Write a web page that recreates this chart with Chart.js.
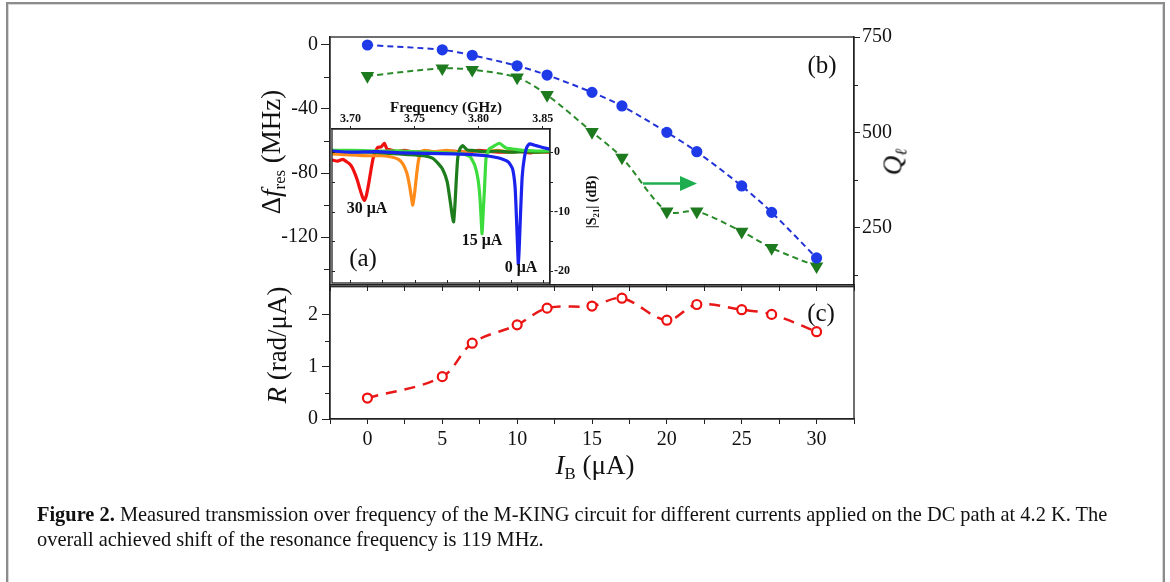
<!DOCTYPE html>
<html lang="en">
<head>
<meta charset="UTF-8">
<title>Figure 2 - M-KING tuning</title>
<script src="https://cdn.jsdelivr.net/npm/chart.js"></script>
<style>
  body { margin: 0; background: #fff; font-family: 'Liberation Serif', serif; color: #111; }
  #fig { position: relative; width: 1170px; height: 582px; overflow: hidden; background: #fff; }
  .frame { position: absolute; left: 6px; top: 2px; width: 1155px; height: 640px; border: 2px solid #8c8c8c; box-shadow: inset 0 0 0 1px #d6d6d6; }
  canvas { position: absolute; }
  .lab { position: absolute; white-space: nowrap; transform: translate(-50%, -50%); line-height: 1; }
  .rot { transform: translate(-50%, -50%) rotate(-90deg); }
  .axt { font-size: 27px; }
  .pan { font-size: 25px; }
  .ins { font-weight: bold; font-size: 15px; }
  sub { font-size: 0.62em; vertical-align: -0.32em; line-height: 0; }
  .caption { position: absolute; left: 37px; top: 502px; font-size: 20.4px; line-height: 25px; white-space: nowrap; }
</style>
</head>
<body>
<div id="fig">
  <div class="frame"></div>
  <canvas id="topChart" width="740" height="273" style="left:200px;top:27px"></canvas>
  <canvas id="bottomChart" width="740" height="170" style="left:200px;top:280px"></canvas>
  <canvas id="insetChart" width="274" height="178" style="left:326px;top:112px"></canvas>

  <div class="lab rot axt" style="left:271px;top:152px">Δ<i>f</i><sub>res</sub> (MHz)</div>
  <div class="lab rot axt" style="left:893px;top:162px"><i>Q</i><sub><i>ℓ</i></sub></div>
  <div class="lab rot axt" style="left:277px;top:345px"><i>R</i> (rad/μA)</div>
  <div class="lab axt" style="left:595px;top:465px"><i>I</i><sub>B</sub> (μA)</div>
  <div class="lab pan" style="left:822px;top:64px">(b)</div>
  <div class="lab pan" style="left:821px;top:312px">(c)</div>
  <div class="lab pan" style="left:363px;top:257px">(a)</div>
  <div class="lab ins" style="left:446px;top:107px">Frequency (GHz)</div>
  <div class="lab ins rot" style="left:592px;top:202px;font-size:14px">|S<sub>21</sub>| (dB)</div>
  <div class="lab ins" style="left:367px;top:208px;font-size:16px">30 μA</div>
  <div class="lab ins" style="left:482px;top:240px;font-size:16px">15 μA</div>
  <div class="lab ins" style="left:521px;top:267px;font-size:16px">0 μA</div>

  <svg width="1170" height="582" style="position:absolute;left:0;top:0;pointer-events:none">
    <line x1="643" y1="183.5" x2="682" y2="183.5" stroke="#1fae4f" stroke-width="2.5"/>
    <polygon points="680,176 697,183.5 680,191" fill="#1fae4f"/>
  </svg>

  <div class="caption"><b>Figure 2.</b> Measured transmission over frequency of the M-KING circuit for different currents applied on the DC path at 4.2 K. The<br>overall achieved shift of the resonance frequency is 119 MHz.</div>
</div>

<script>
  // bias current values (uA)
  const currents = [0, 5, 7, 10, 12, 15, 17, 20, 22, 25, 27, 30];
  // (b) resonance shift, MHz (left axis) and loaded Q (right axis)
  const shiftMHz = [0, -3, -6.4, -13, -18.8, -29.6, -38.1, -54.6, -66.7, -88.1, -104.6, -133.1];
  const qLoaded = [648, 668, 664, 644, 598, 501, 434, 293, 293, 240, 197, 149];
  // (c) responsivity, rad/uA
  const responsivity = [0.40, 0.81, 1.45, 1.80, 2.12, 2.16, 2.31, 1.89, 2.19, 2.09, 2.00, 1.67];

  // (a) |S21| traces
  const freq30 = [3.6856, 3.690, 3.694, 3.697, 3.6995, 3.7015, 3.7035, 3.7055, 3.7075, 3.7095, 3.7109, 3.7125, 3.7143, 3.716, 3.7175, 3.719, 3.7213, 3.724, 3.7265, 3.7285, 3.731, 3.736, 3.742, 3.750, 3.760, 3.770, 3.780, 3.790, 3.800, 3.810, 3.820, 3.830, 3.840, 3.848, 3.8557];
  const s21_30 = [-1.3, -1.5, -1.2, -1.6, -2.0, -2.6, -3.6, -4.8, -6.3, -7.6, -8.1, -7.2, -5.2, -3.0, -1.2, -0.1, 0.8, 0.9, 1.5, 0.5, 0.4, 0.1, 0.3, 0.0, 0.2, -0.1, 0.2, 0.0, 0.3, 0.1, 0.0, 0.2, -0.1, 0.1, 0.0];
  const freq25 = [3.6856, 3.695, 3.705, 3.715, 3.725, 3.732, 3.7375, 3.741, 3.744, 3.746, 3.7475, 3.7486, 3.750, 3.7515, 3.753, 3.755, 3.758, 3.765, 3.775, 3.785, 3.795, 3.805, 3.815, 3.825, 3.835, 3.845, 3.8557];
  const s21_25 = [-0.3, -0.4, -0.5, -0.6, -0.6, -0.8, -1.2, -2.0, -3.5, -5.5, -7.5, -8.9, -7.0, -4.0, -1.5, 0.1, 0.3, 0.1, 0.3, 0.0, 0.2, 0.1, 0.3, 0.0, 0.2, 0.0, 0.1];
  const freq20 = [3.6856, 3.700, 3.715, 3.730, 3.745, 3.757, 3.764, 3.768, 3.772, 3.7755, 3.778, 3.7795, 3.7805, 3.7815, 3.7825, 3.7837, 3.7855, 3.7876, 3.791, 3.795, 3.805, 3.815, 3.825, 3.835, 3.845, 3.8557];
  const s21_20 = [0.2, 0.1, 0.0, -0.2, -0.4, -0.6, -1.0, -1.8, -2.9, -5.0, -8.5, -10.8, -11.7, -9.0, -5.0, -1.0, 0.6, 1.1, 0.4, 0.3, 0.1, 0.2, 0.0, 0.1, 0.0, 0.1];
  const freq15 = [3.6856, 3.700, 3.720, 3.740, 3.760, 3.775, 3.788, 3.7935, 3.797, 3.7995, 3.801, 3.8018, 3.8027, 3.8036, 3.8045, 3.8058, 3.808, 3.811, 3.8162, 3.8214, 3.828, 3.835, 3.845, 3.8557];
  const s21_15 = [0.3, 0.3, 0.2, 0.2, 0.0, -0.1, -0.3, -0.8, -2.2, -4.5, -7.5, -10.5, -13.7, -10.0, -6.5, -1.0, 0.5, 0.9, 1.5, 0.7, 0.5, 0.3, 0.2, 0.2];
  const freq0 = [3.6856, 3.700, 3.720, 3.740, 3.760, 3.780, 3.795, 3.806, 3.814, 3.8188, 3.8235, 3.8265, 3.8285, 3.8297, 3.8305, 3.831, 3.8317, 3.8326, 3.834, 3.8357, 3.8375, 3.8396, 3.8448, 3.850, 3.8557];
  const s21_0 = [0.2, 0.0, 0.1, -0.1, -0.2, -0.3, -0.4, -0.6, -0.9, -1.2, -1.7, -2.8, -6.0, -12.0, -16.5, -18.8, -16.0, -10.9, -4.1, -0.9, 0.8, 1.4, 1.1, 0.8, 0.5];

  // tick values
  const currentTicks = [-2.5, 0, 2.5, 5, 7.5, 10, 12.5, 15, 17.5, 20, 22.5, 25, 27.5, 30, 32.5];
  const shiftTicks = [0, -40, -80, -120];
  const shiftMinor = [-20, -60, -100, -140];
  const qTicks = [250, 500, 750];
  const qMinor = [125, 375, 625];
  const rTicks = [0, 1, 2];
  const rMinor = [0.5, 1.5];
  const freqTicks = [3.70, 3.75, 3.80, 3.85];
  const freqMinor = [3.725, 3.775, 3.825];
  const s21Ticks = [0, -10, -20];
  const s21Minor = [-5, -15];

  Chart.defaults.animation = false;
  Chart.defaults.font.family = "'Liberation Serif', serif";
  Chart.defaults.color = '#111';

  const pts = (xs, ys) => xs.map((x, i) => ({ x: x, y: ys[i] }));
  const fixTicks = vals => s => { s.ticks = vals.map(v => ({ value: v })); };
  // fixed axis box size, and no extra label overhang padding
  const fitBox = (w, h) => s => {
    if (w !== null) s.width = w;
    if (h !== null) s.height = h;
    s.paddingTop = s.paddingBottom = s.paddingLeft = s.paddingRight = 0;
  };

  const framePlugin = {
    id: 'frame',
    beforeDraw(chart, args, opts) {
      if (opts.fill) {
        const a = chart.chartArea;
        chart.ctx.save();
        chart.ctx.fillStyle = opts.fill;
        chart.ctx.fillRect(a.left, a.top, a.right - a.left, a.bottom - a.top);
        chart.ctx.restore();
      }
    },
    afterDraw(chart) {
      const a = chart.chartArea, ctx = chart.ctx;
      ctx.save();
      ctx.strokeStyle = '#222';
      ctx.lineWidth = 1.3;
      ctx.strokeRect(a.left, a.top, a.right - a.left, a.bottom - a.top);
      ctx.restore();
    }
  };

  // short extra ticks drawn against the library's scales
  function tickMarks(specs) {
    return {
      id: 'tickMarks',
      afterDraw(chart) {
        const ctx = chart.ctx, a = chart.chartArea;
        ctx.save();
        ctx.strokeStyle = '#222';
        ctx.lineWidth = 1;
        specs.forEach(sp => {
          const sc = chart.scales[sp.scale];
          sp.values.forEach(v => {
            const p = Math.round(sc.getPixelForValue(v)) + 0.5;
            ctx.beginPath();
            if (sp.edge === 'left') { ctx.moveTo(a.left, p); ctx.lineTo(a.left + sp.len, p); }
            if (sp.edge === 'right') { ctx.moveTo(a.right, p); ctx.lineTo(a.right + sp.len, p); }
            if (sp.edge === 'top') { ctx.moveTo(p, a.top); ctx.lineTo(p, a.top + sp.len); }
            if (sp.edge === 'bottom') { ctx.moveTo(p, a.bottom); ctx.lineTo(p, a.bottom + sp.len); }
            ctx.stroke();
          });
        });
        ctx.restore();
      }
    };
  }

  const tickFont = { size: 20 };
  const axisGrid = len => ({ drawOnChartArea: false, drawTicks: true, tickLength: len, color: '#222', lineWidth: 1 });
  const axisBorder = { display: true, color: '#222', width: 1.3 };

  // (b) top panel
  new Chart(document.getElementById('topChart'), {
    type: 'line',
    data: {
      datasets: [
        {
          data: pts(currents, shiftMHz),
          yAxisID: 'y',
          borderColor: '#2233d6',
          borderWidth: 2,
          borderDash: [6, 4],
          tension: 0.3,
          pointStyle: 'circle',
          pointRadius: 4.6,
          pointBackgroundColor: '#1f3be8',
          pointBorderColor: '#1f3be8'
        },
        {
          data: pts(currents, qLoaded),
          yAxisID: 'yQ',
          borderColor: '#2a8a2a',
          borderWidth: 2,
          borderDash: [6, 4],
          tension: 0.3,
          pointStyle: 'triangle',
          rotation: 180,
          pointRadius: 5.8,
          pointBackgroundColor: '#1e7a1e',
          pointBorderColor: '#1e7a1e'
        }
      ]
    },
    options: {
      responsive: false,
      layout: { padding: { top: 10, left: 0, right: 0, bottom: 0 } },
      plugins: { legend: { display: false }, tooltip: { enabled: false }, frame: {} },
      scales: {
        x: {
          type: 'linear', position: 'bottom', min: -2.5, max: 32.5,
          afterBuildTicks: fixTicks(currentTicks),
          afterFit: fitBox(null, 15),
          ticks: { display: false },
          grid: axisGrid(6), border: axisBorder
        },
        y: {
          position: 'left', min: -150, max: 5,
          afterBuildTicks: fixTicks(shiftTicks),
          afterFit: fitBox(130, null),
          ticks: { font: tickFont, padding: 3, callback: v => String(v) },
          grid: axisGrid(9), border: axisBorder
        },
        yQ: {
          position: 'right', min: 100, max: 750,
          afterBuildTicks: fixTicks(qTicks),
          afterFit: fitBox(86, null),
          ticks: { font: tickFont, padding: 2, callback: v => String(v) },
          grid: axisGrid(6), border: axisBorder
        }
      }
    },
    plugins: [framePlugin, tickMarks([
      { scale: 'y', values: shiftMinor, edge: 'left', len: -6 },
      { scale: 'yQ', values: qMinor, edge: 'right', len: 4 }
    ])]
  });

  // (c) bottom panel
  new Chart(document.getElementById('bottomChart'), {
    type: 'line',
    data: {
      datasets: [{
        data: pts(currents, responsivity),
        borderColor: '#e81818',
        borderWidth: 2.5,
        borderDash: [11, 8],
        tension: 0.35,
        pointStyle: 'circle',
        pointRadius: 4.5,
        pointBorderWidth: 2.2,
        pointBackgroundColor: '#fff',
        pointBorderColor: '#ee1111'
      }]
    },
    options: {
      responsive: false,
      layout: { padding: { top: 5, right: 86, left: 0, bottom: 0 } },
      plugins: { legend: { display: false }, tooltip: { enabled: false }, frame: {} },
      scales: {
        x: {
          type: 'linear', position: 'bottom', min: -2.5, max: 32.5,
          afterBuildTicks: fixTicks(currentTicks),
          afterFit: fitBox(null, 31),
          ticks: { font: tickFont, padding: 4, maxRotation: 0, autoSkip: false, callback: v => (v % 5 === 0 ? String(v) : '') },
          grid: axisGrid(5), border: axisBorder
        },
        y: {
          position: 'left', min: 0, max: 2.53,
          afterBuildTicks: fixTicks(rTicks),
          afterFit: fitBox(130, null),
          ticks: { font: tickFont, padding: 4, callback: v => String(v) },
          grid: axisGrid(8), border: axisBorder
        }
      }
    },
    plugins: [framePlugin, tickMarks([
      { scale: 'y', values: rMinor, edge: 'left', len: -5 }
    ])]
  });

  // (a) inset
  const trace = (xs, ys, color) => ({
    data: pts(xs, ys), borderColor: color, borderWidth: 3.2, pointRadius: 0, tension: 0.15
  });
  const insetFont = { size: 12, weight: 'bold' };
  new Chart(document.getElementById('insetChart'), {
    type: 'line',
    data: {
      datasets: [
        trace(freq0, s21_0, '#1a22ee'),
        trace(freq15, s21_15, '#3ddc3d'),
        trace(freq20, s21_20, '#1d7d1d'),
        trace(freq25, s21_25, '#ff8c1a'),
        trace(freq30, s21_30, '#f01010')
      ]
    },
    options: {
      responsive: false,
      layout: { padding: { left: 6, bottom: 7, top: 0, right: 0 } },
      plugins: { legend: { display: false }, tooltip: { enabled: false }, frame: { fill: '#fff' } },
      scales: {
        x: {
          type: 'linear', position: 'top', min: 3.6856, max: 3.8557,
          afterBuildTicks: fixTicks(freqTicks),
          afterFit: fitBox(null, 17),
          ticks: { font: insetFont, padding: 0, maxRotation: 0, autoSkip: false, callback: v => v.toFixed(2) },
          grid: axisGrid(3), border: axisBorder
        },
        y: {
          position: 'right', min: -22, max: 3.9,
          afterBuildTicks: fixTicks(s21Ticks),
          afterFit: fitBox(50, null),
          ticks: { font: insetFont, padding: 1, callback: v => String(v) },
          grid: axisGrid(3), border: axisBorder
        }
      }
    },
    plugins: [framePlugin, tickMarks([
      { scale: 'y', values: s21Minor, edge: 'right', len: 3 },
      { scale: 'y', values: s21Ticks.concat(s21Minor), edge: 'left', len: 3 },
      { scale: 'x', values: freqTicks.concat(freqMinor), edge: 'bottom', len: -3 }
    ])]
  });
</script>
</body>
</html>
